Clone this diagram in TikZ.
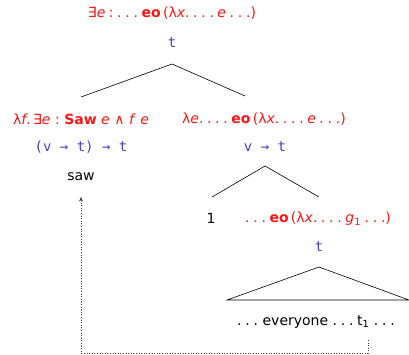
\documentclass[tikz,border=0pt]{standalone}
\usepackage{fontspec}
\setmainfont{DejaVu Sans}
\setmonofont{DejaVu Sans Mono}
\usetikzlibrary{arrows.meta}
\definecolor{semred}{RGB}{255,20,20}
\definecolor{typeblue}{RGB}{64,64,200}
\newcommand\dts{.\kern3.8pt.\kern3.8pt.}
\newcommand\gap{\kern3.5pt}
\newcommand\wgap{\kern4.5pt}
\tikzset{
  sem/.style={text=semred, inner sep=0pt, font=\fontsize{14}{16}\selectfont},
  typ/.style={text=typeblue, inner sep=0pt, font=\fontsize{14}{16}\selectfont\ttfamily},
  word/.style={text=black, inner sep=0pt, font=\fontsize{14}{16}\selectfont},
  branch/.style={line width=0.6pt},
  trace/.style={dotted, line width=0.6pt, black!75, -{Stealth[length=4.5pt,width=4pt]}}
}
\begin{document}
\begin{tikzpicture}[x=1pt,y=-1pt]
\useasboundingbox (0,0) rectangle (409,354);

% root
\node[sem] (root) at (172,13) {∃\textit{e}\gap:\gap\dts\gap\textbf{eo}\,(λ\textit{x}.\gap\dts\gap\textit{e}\gap\dts)};
\node[typ] (roott) at (172,43) {t};

% first split
\node[sem] (saws) at (81,119) {λ\textit{f}.\,∃\textit{e}\wgap:\wgap\textbf{Saw}\wgap\textit{e}\wgap∧\wgap\textit{f}\wgap\textit{e}};
\node[sem] (abs) at (264,119) {λ\textit{e}.\gap\dts\gap\textbf{eo}\,(λ\textit{x}.\gap\dts\gap\textit{e}\gap\dts)};
\node[typ] (sawt) at (81,147) {(v → t) → t};
\node[typ] (abst) at (265,147) {v → t};
\node[word] (saw) at (81,177) {saw};

\coordinate (a1) at (172,64);
\coordinate (l1) at (81,97);
\coordinate (r1) at (245,96);
\draw[branch] (l1) -- (a1) -- (r1);

% second split
\coordinate (a2) at (265,166);
\coordinate (l2) at (212,197);
\coordinate (r2) at (319,197);
\draw[branch] (l2) -- (a2) -- (r2);

\node[word] (idx) at (211,218) {1};
\node[sem] (body) at (318,219) {\dts\gap\textbf{eo}\,(λ\textit{x}.\gap\dts\gap\textit{g}\textsubscript{1}\gap\dts)};
\node[typ] (bodyt) at (319,247) {t};

% roof over the embedded clause
\coordinate (ta) at (319,267);
\coordinate (tl) at (227,300);
\coordinate (tr) at (409,300);
\draw[branch] (tl) -- (ta) -- (tr) -- cycle;

\node[word] (clause) at (316,322) {\dts\wgap everyone\wgap\dts\gap t\textsubscript{1}\wgap\dts};

% movement trace
\coordinate (tstart) at (368,340);
\coordinate (tend) at (81,197);
\coordinate (low) at (0,353);
\draw[trace] (tstart) -- (tstart |- low) -- (tend |- low) -- (tend);
\end{tikzpicture}
\end{document}
